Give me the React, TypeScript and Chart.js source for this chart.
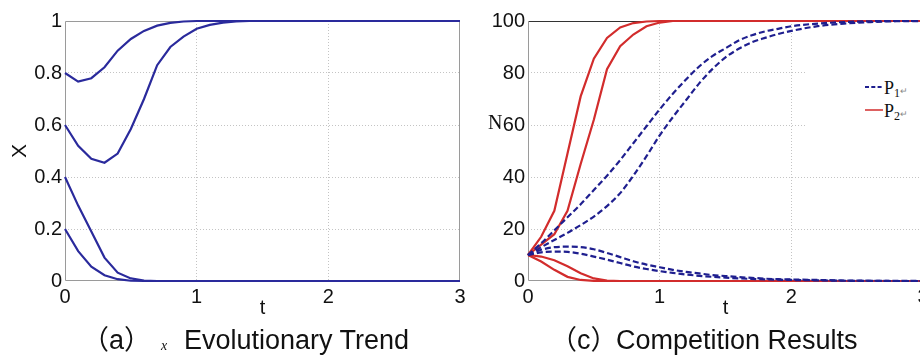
import React, { useEffect, useRef } from "react";
import { Chart, registerables } from "chart.js";

Chart.register(...registerables);

// ---------- Panel (a): x evolutionary trend ----------
const tA = [0, 0.1, 0.2, 0.3, 0.4, 0.5, 0.6, 0.7, 0.8, 0.9, 1.0, 1.1, 1.2, 1.3, 1.4, 3.0];
const xFrom08 = [0.8, 0.767, 0.78, 0.822, 0.886, 0.931, 0.962, 0.982, 0.993, 0.998, 1, 1, 1, 1, 1, 1];
const xFrom06 = [0.6, 0.52, 0.47, 0.455, 0.49, 0.585, 0.7, 0.83, 0.9, 0.94, 0.97, 0.985, 0.994, 0.998, 1, 1];
const xFrom04 = [0.4, 0.29, 0.19, 0.09, 0.032, 0.01, 0.002, 0, 0, 0, 0, 0, 0, 0, 0, 0];
const xFrom02 = [0.2, 0.115, 0.055, 0.022, 0.007, 0.001, 0, 0, 0, 0, 0, 0, 0, 0, 0, 0];
const yTicksA = [0, 0.2, 0.4, 0.6, 0.8, 1];
const xTicks = [0, 1, 2, 3];

// ---------- Panel (c): competition results ----------
const tC = [0, 0.1, 0.2, 0.3, 0.4, 0.5, 0.6, 0.7, 0.8, 0.9, 1.0, 1.1, 1.2, 1.3, 1.4, 1.5, 1.6, 1.7, 1.8, 1.9, 2.0, 2.2, 2.4, 2.6, 2.8, 3.0];
const p1Rise1 = [10, 14.5, 19.5, 24.5, 29.5, 35, 40.5, 46.5, 53, 59.5, 66, 72, 77.5, 82.5, 86.5, 89.5, 92.5, 94.5, 96, 97, 98, 99, 99.6, 99.9, 100, 100];
const p1Rise2 = [10, 13, 15.8, 18.5, 21.5, 24.8, 28.8, 33.8, 40.5, 48, 56, 63, 69.5, 76, 81.5, 86, 89.3, 91.8, 93.5, 95, 96.2, 98, 99, 99.6, 99.9, 100];
const p1Fall1 = [10, 12, 13, 13.2, 13, 12.2, 10.8, 9.2, 7.6, 6.3, 5.3, 4.3, 3.5, 2.9, 2.3, 1.9, 1.5, 1.2, 0.9, 0.7, 0.6, 0.4, 0.2, 0.1, 0.05, 0];
const p1Fall2 = [10, 11, 11.3, 11.2, 10.5, 9.4, 8.2, 6.9, 5.6, 4.6, 3.8, 3.1, 2.5, 2.0, 1.6, 1.3, 1.0, 0.8, 0.6, 0.5, 0.4, 0.25, 0.1, 0.05, 0, 0];
const p2Rise1 = [10, 17, 27, 49, 71, 85.5, 93.5, 97.5, 99.2, 99.8, 100, 100, 100, 100, 100, 100, 100, 100, 100, 100, 100, 100, 100, 100, 100, 100];
const p2Rise2 = [10, 14, 18, 27, 45, 62, 81.5, 90.3, 94.8, 98, 99.4, 100, 100, 100, 100, 100, 100, 100, 100, 100, 100, 100, 100, 100, 100, 100];
const p2Fall1 = [10, 9.4, 8, 5.7, 3, 1, 0.2, 0, 0, 0, 0, 0, 0, 0, 0, 0, 0, 0, 0, 0, 0, 0, 0, 0, 0, 0];
const p2Fall2 = [10, 7.5, 4.3, 1.6, 0.4, 0.05, 0, 0, 0, 0, 0, 0, 0, 0, 0, 0, 0, 0, 0, 0, 0, 0, 0, 0, 0, 0];
const yTicksC = [0, 20, 40, 60, 80, 100];
const legendLabels = ["P1", "P2"];

const SANS = "'Liberation Sans', Arial, sans-serif";
const SERIF = "'Liberation Serif', 'Times New Roman', serif";
const BLUE_A = "#2a2a9c";
const BLUE_P1 = "#1f1f8f";
const RED_P2 = "#d22c2c";

const framePlugin = {
  id: "frame",
  beforeDatasetsDraw(chart: any, _args: any, opts: any) {
    const { ctx, chartArea: a } = chart;
    const L = Math.round(a.left) + 0.5;
    const R = Math.round(a.right) - 0.5;
    const T = Math.round(a.top) + 0.5;
    const B = Math.round(a.bottom) - 0.5;
    const seg = (x1: number, y1: number, x2: number, y2: number, c: string) => {
      ctx.strokeStyle = c;
      ctx.beginPath();
      ctx.moveTo(x1, y1);
      ctx.lineTo(x2, y2);
      ctx.stroke();
    };
    ctx.save();
    ctx.lineWidth = 1;
    seg(L, T, R, T, opts.top);
    seg(R, T, R, B, opts.right);
    seg(L, B, R, B, opts.bottom);
    seg(L, T, L, B, opts.left);
    ctx.restore();
  },
};

function toPoints(t: number[], v: number[]) {
  return t.map((x, i) => ({ x, y: v[i] }));
}

function gridColor(min: number, max: number) {
  return (c: any) =>
    c.tick && (c.tick.value === min || c.tick.value === max) ? "rgba(0,0,0,0)" : "#c4c4c4";
}

function buildOptions(p: {
  yTicks: number[];
  yMax: number;
  yWidth: number;
  padRight: number;
  yTitle: string | null;
  frame: any;
}) {
  return {
    responsive: false,
    animation: false as const,
    layout: { padding: { left: 0, right: p.padRight, top: 21, bottom: 36 } },
    plugins: {
      legend: { display: false },
      tooltip: { enabled: false },
      frame: p.frame,
    },
    elements: { point: { radius: 0 } },
    scales: {
      x: {
        type: "linear" as const,
        min: 0,
        max: 3,
        afterBuildTicks: (s: any) => {
          s.ticks = xTicks.map((v) => ({ value: v }));
        },
        afterFit: (s: any) => {
          s.height = 39;
        },
        grid: { color: gridColor(0, 3), drawTicks: false, lineWidth: 1 },
        border: { display: false, dash: [1, 2] },
        ticks: {
          padding: 4,
          autoSkip: false,
          maxRotation: 0,
          color: "#111",
          font: { family: SANS, size: 20 },
          callback: (v: any) => String(v),
        },
        title: {
          display: true,
          text: "t",
          color: "#111",
          font: { family: SANS, size: 20 },
          padding: 0,
        },
      },
      y: {
        type: "linear" as const,
        min: 0,
        max: p.yMax,
        afterBuildTicks: (s: any) => {
          s.ticks = p.yTicks.map((v) => ({ value: v }));
        },
        afterFit: (s: any) => {
          s.width = p.yWidth;
        },
        grid: { color: gridColor(0, p.yMax), drawTicks: false, lineWidth: 1 },
        border: { display: false, dash: [1, 2] },
        ticks: {
          padding: 3,
          autoSkip: false,
          color: "#111",
          font: { family: SANS, size: 20 },
          callback: (v: any) => String(v),
        },
        title: p.yTitle
          ? {
              display: true,
              text: p.yTitle,
              color: "#111",
              font: { family: SANS, size: 21 },
              padding: { top: 8, bottom: 0 },
            }
          : { display: false },
      },
    },
  };
}

function solid(label: string, t: number[], v: number[], color: string) {
  return {
    label,
    data: toPoints(t, v),
    borderColor: color,
    backgroundColor: color,
    borderWidth: 2.2,
    tension: 0,
    clip: 4,
  };
}

function dashed(label: string, t: number[], v: number[], color: string) {
  return {
    label,
    data: toPoints(t, v),
    borderColor: color,
    backgroundColor: color,
    borderWidth: 2.2,
    borderDash: [6, 3],
    cubicInterpolationMode: "monotone" as const,
    clip: 4,
  };
}

export default function App() {
  const leftRef = useRef<HTMLCanvasElement | null>(null);
  const rightRef = useRef<HTMLCanvasElement | null>(null);

  useEffect(() => {
    const left = new Chart(leftRef.current as HTMLCanvasElement, {
      type: "line",
      data: {
        datasets: [
          solid("x0=0.8", tA, xFrom08, BLUE_A),
          solid("x0=0.6", tA, xFrom06, BLUE_A),
          solid("x0=0.4", tA, xFrom04, BLUE_A),
          solid("x0=0.2", tA, xFrom02, BLUE_A),
        ],
      },
      options: buildOptions({
        yTicks: yTicksA,
        yMax: 1,
        yWidth: 65,
        padRight: 10,
        yTitle: "X",
        frame: { top: "#9a9a9a", right: "#9a9a9a", bottom: "#9a9a9a", left: "#9a9a9a" },
      }) as any,
      plugins: [framePlugin],
    });

    const right = new Chart(rightRef.current as HTMLCanvasElement, {
      type: "line",
      data: {
        datasets: [
          dashed(legendLabels[0], tC, p1Rise1, BLUE_P1),
          dashed(legendLabels[0], tC, p1Rise2, BLUE_P1),
          dashed(legendLabels[0], tC, p1Fall1, BLUE_P1),
          dashed(legendLabels[0], tC, p1Fall2, BLUE_P1),
          solid(legendLabels[1], tC, p2Rise1, RED_P2),
          solid(legendLabels[1], tC, p2Rise2, RED_P2),
          solid(legendLabels[1], tC, p2Fall1, RED_P2),
          solid(legendLabels[1], tC, p2Fall2, RED_P2),
        ],
      },
      options: buildOptions({
        yTicks: yTicksC,
        yMax: 100,
        yWidth: 58,
        padRight: 17,
        yTitle: null,
        frame: { top: "#333333", right: "#9a9a9a", bottom: "#9a9a9a", left: "#9a9a9a" },
      }) as any,
      plugins: [framePlugin],
    });

    return () => {
      left.destroy();
      right.destroy();
    };
  }, []);

  const abs = (o: React.CSSProperties): React.CSSProperties => ({ position: "absolute", whiteSpace: "pre", ...o });

  return (
    <div
      style={{
        position: "absolute",
        left: 0,
        top: 0,
        width: 920,
        height: 356,
        overflow: "hidden",
        background: "#fff",
      }}
    >
      <canvas ref={leftRef} width={470} height={356} style={abs({ left: 0, top: 0, width: 470, height: 356 })} />
      <canvas ref={rightRef} width={470} height={356} style={abs({ left: 470, top: 0, width: 470, height: 356 })} />

      {/* y label N of panel (c) */}
      <span style={abs({ left: 488, top: 112, fontFamily: SERIF, fontSize: 20, lineHeight: "20px", color: "#111" })}>N</span>

      {/* legend of panel (c) */}
      <div style={abs({ left: 805, top: 60, width: 120, height: 78, background: "#fff" })} />
      <svg style={abs({ left: 864, top: 80, width: 22, height: 40 })} width={22} height={40}>
        <line x1={1} y1={7} x2={19} y2={7} stroke={BLUE_P1} strokeWidth={2} strokeDasharray="4 2.3" />
        <line x1={1} y1={30} x2={19} y2={30} stroke={RED_P2} strokeWidth={1.5} />
      </svg>
      <span style={abs({ left: 884, top: 79, fontFamily: SERIF, fontSize: 18, lineHeight: "18px", color: "#111" })}>
        {legendLabels[0].slice(0, 1)}
        <sub style={{ fontSize: 12, verticalAlign: "-3px" }}>{legendLabels[0].slice(1)}</sub>
        <span style={{ fontSize: 9, color: "#888", fontFamily: SANS }}>↵</span>
      </span>
      <span style={abs({ left: 884, top: 102, fontFamily: SERIF, fontSize: 18, lineHeight: "18px", color: "#111" })}>
        {legendLabels[1].slice(0, 1)}
        <sub style={{ fontSize: 12, verticalAlign: "-3px" }}>{legendLabels[1].slice(1)}</sub>
        <span style={{ fontSize: 9, color: "#888", fontFamily: SANS }}>↵</span>
      </span>

      {/* captions */}
      <span style={abs({ left: 82, top: 327, fontFamily: "'Liberation Sans', 'Noto Sans CJK SC', sans-serif", fontSize: 27, lineHeight: "27px", color: "#111" })}>（a）</span>
      <span style={abs({ left: 161, top: 339, fontFamily: SERIF, fontStyle: "italic", fontSize: 14, lineHeight: "14px", color: "#111" })}>x</span>
      <span style={abs({ left: 184, top: 327, fontFamily: SANS, fontSize: 27, lineHeight: "27px", color: "#111" })}>Evolutionary Trend</span>
      <span style={abs({ left: 550, top: 327, fontFamily: "'Liberation Sans', 'Noto Sans CJK SC', sans-serif", fontSize: 27, lineHeight: "27px", color: "#111" })}>（c）</span>
      <span style={abs({ left: 616, top: 327, fontFamily: SANS, fontSize: 27, lineHeight: "27px", color: "#111" })}>Competition Results</span>
    </div>
  );
}
